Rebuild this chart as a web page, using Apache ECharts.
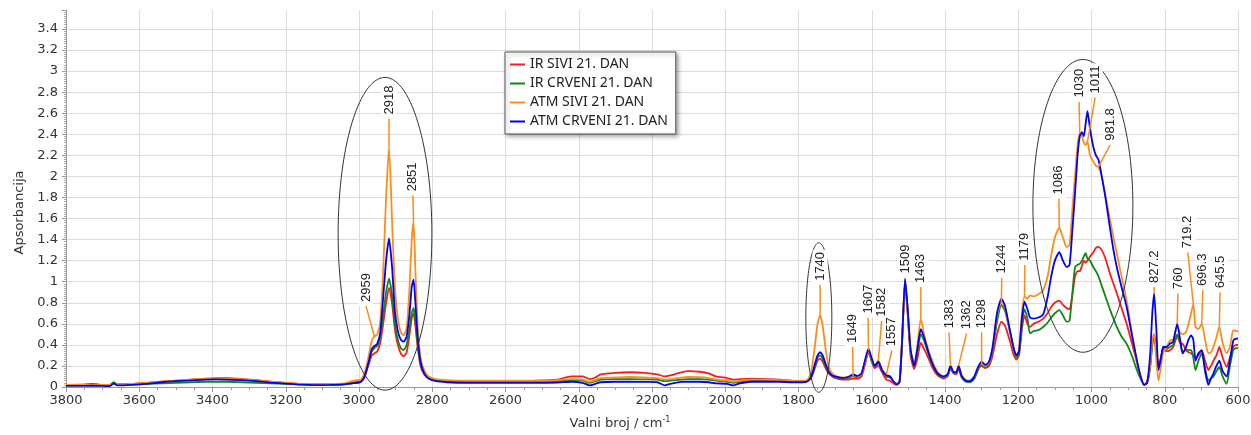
<!DOCTYPE html>
<html><head><meta charset="utf-8">
<script src="https://cdn.jsdelivr.net/npm/echarts@6/dist/echarts.min.js"></script>
<style>html,body{margin:0;padding:0;background:#fff}#c{width:1251px;height:435px}</style>
</head><body><div id="c"></div>
<script>
const seriesNames = ['IR SIVI 21. DAN', 'IR CRVENI 21. DAN', 'ATM SIVI 21. DAN', 'ATM CRVENI 21. DAN'];
const seriesColors = ['#ff1a1a', '#118811', '#ff8c1a', '#0000ff'];

const wavenumbers = [3800,3760,3730,3700,3680,3670,3660,3620,3580,3540,3500,3460,3420,3390,3360,3320,3280,3240,3200,3160,3120,3080,3040,3020,3005,2995,2985,2975,2965,2958,2950,2942,2934,2926,2918,2910,2902,2894,2886,2878,2870,2862,2856,2851,2846,2840,2832,2822,2810,2790,2760,2700,2640,2580,2520,2460,2420,2390,2370,2355,2340,2300,2260,2220,2185,2165,2150,2120,2100,2070,2045,2025,1995,1978,1960,1930,1890,1850,1820,1790,1775,1765,1755,1748,1741,1734,1726,1718,1708,1695,1680,1665,1651,1640,1628,1618,1609,1600,1592,1582,1572,1560,1550,1540,1532,1524,1517,1509,1502,1494,1484,1476,1466,1457,1446,1434,1420,1405,1393,1385,1376,1369,1363,1354,1343,1332,1320,1308,1300,1290,1280,1270,1258,1246,1236,1224,1212,1205,1198,1190,1183,1175,1168,1158,1145,1132,1120,1110,1100,1088,1078,1068,1060,1052,1045,1038,1032,1026,1021,1016,1011,1004,995,988,981,972,962,950,940,931,918,904,890,877,866,856,848,840,834,829,823,817,810,804,795,786,777,766,758,751,742,735,728,722,716,708,699,690,681,674,667,659,651,642,631,622,613,605,600];

const irSivi = [0.02,0.02,0.025,0.02,0.02,0.03,0.025,0.03,0.04,0.05,0.06,0.07,0.08,0.085,0.083,0.075,0.065,0.05,0.04,0.03,0.025,0.025,0.03,0.04,0.05,0.05,0.09,0.2,0.3,0.32,0.34,0.42,0.6,0.8,0.94,0.8,0.55,0.4,0.32,0.29,0.33,0.5,0.65,0.7,0.58,0.38,0.2,0.12,0.08,0.06,0.055,0.05,0.05,0.055,0.06,0.07,0.1,0.1,0.075,0.09,0.12,0.135,0.14,0.135,0.12,0.1,0.11,0.14,0.15,0.145,0.13,0.1,0.085,0.07,0.075,0.08,0.075,0.07,0.06,0.055,0.06,0.09,0.18,0.25,0.27,0.24,0.18,0.13,0.1,0.08,0.07,0.07,0.08,0.08,0.1,0.22,0.33,0.24,0.18,0.2,0.14,0.07,0.06,0.03,0.02,0.05,0.45,1.0,0.7,0.3,0.17,0.26,0.42,0.36,0.28,0.18,0.11,0.08,0.1,0.17,0.13,0.12,0.17,0.09,0.06,0.05,0.08,0.18,0.2,0.18,0.2,0.3,0.5,0.62,0.58,0.45,0.3,0.26,0.3,0.55,0.68,0.6,0.57,0.6,0.62,0.65,0.7,0.76,0.8,0.82,0.78,0.75,0.74,0.88,1.05,1.1,1.1,1.15,1.2,1.18,1.2,1.24,1.28,1.32,1.33,1.3,1.22,1.08,0.98,0.89,0.75,0.6,0.42,0.25,0.1,0.02,0.05,0.2,0.42,0.5,0.35,0.2,0.28,0.36,0.34,0.35,0.38,0.48,0.42,0.41,0.35,0.33,0.32,0.3,0.28,0.3,0.35,0.25,0.16,0.2,0.25,0.3,0.38,0.28,0.19,0.28,0.38,0.4,0.4];

const irCrveni = [0.02,0.02,0.03,0.02,0.02,0.045,0.025,0.025,0.03,0.035,0.04,0.045,0.05,0.05,0.05,0.045,0.04,0.035,0.03,0.025,0.022,0.022,0.025,0.035,0.04,0.05,0.1,0.22,0.34,0.37,0.39,0.48,0.68,0.9,1.03,0.88,0.6,0.45,0.37,0.35,0.4,0.56,0.7,0.75,0.62,0.42,0.22,0.13,0.09,0.065,0.055,0.05,0.05,0.05,0.05,0.055,0.065,0.06,0.04,0.055,0.07,0.075,0.075,0.072,0.07,0.055,0.06,0.07,0.075,0.075,0.07,0.06,0.05,0.04,0.05,0.06,0.06,0.06,0.055,0.05,0.06,0.1,0.2,0.28,0.3,0.27,0.2,0.14,0.11,0.09,0.08,0.085,0.1,0.095,0.12,0.24,0.34,0.25,0.19,0.23,0.16,0.1,0.09,0.05,0.03,0.05,0.45,1.01,0.72,0.33,0.2,0.32,0.5,0.44,0.32,0.21,0.12,0.09,0.11,0.18,0.13,0.13,0.18,0.09,0.05,0.045,0.08,0.18,0.21,0.19,0.22,0.35,0.62,0.78,0.72,0.55,0.35,0.28,0.31,0.6,0.74,0.65,0.51,0.53,0.54,0.57,0.61,0.66,0.7,0.73,0.68,0.62,0.63,0.9,1.14,1.16,1.17,1.2,1.24,1.27,1.22,1.2,1.14,1.1,1.05,0.96,0.86,0.74,0.65,0.57,0.48,0.41,0.3,0.17,0.08,0.02,0.04,0.18,0.4,0.48,0.33,0.18,0.28,0.38,0.36,0.38,0.4,0.5,0.43,0.32,0.36,0.35,0.35,0.28,0.16,0.25,0.32,0.18,0.06,0.08,0.1,0.15,0.19,0.1,0.03,0.2,0.35,0.37,0.37];

const atmSivi = [0.02,0.025,0.02,0.02,0.02,0.03,0.025,0.03,0.04,0.05,0.06,0.07,0.077,0.08,0.078,0.072,0.062,0.05,0.04,0.03,0.025,0.025,0.035,0.055,0.065,0.07,0.13,0.27,0.44,0.48,0.5,0.62,1.1,1.8,2.28,1.6,0.95,0.65,0.52,0.49,0.56,0.95,1.4,1.57,1.1,0.6,0.28,0.16,0.1,0.075,0.065,0.06,0.06,0.06,0.06,0.065,0.075,0.07,0.05,0.065,0.085,0.09,0.095,0.09,0.085,0.07,0.075,0.09,0.095,0.093,0.085,0.07,0.06,0.05,0.06,0.07,0.07,0.065,0.06,0.055,0.07,0.15,0.4,0.6,0.68,0.58,0.36,0.2,0.13,0.1,0.09,0.095,0.11,0.1,0.12,0.24,0.35,0.26,0.2,0.25,0.17,0.12,0.1,0.05,0.03,0.05,0.45,1.02,0.73,0.35,0.22,0.38,0.65,0.5,0.36,0.24,0.14,0.1,0.12,0.2,0.14,0.14,0.2,0.11,0.07,0.06,0.1,0.2,0.22,0.2,0.23,0.37,0.68,0.81,0.75,0.55,0.35,0.3,0.35,0.7,0.86,0.84,0.87,0.86,0.88,0.92,1.05,1.25,1.42,1.51,1.42,1.33,1.35,1.7,2.0,2.3,2.41,2.38,2.32,2.3,2.33,2.2,2.14,2.1,2.09,2.0,1.82,1.6,1.42,1.27,1.05,0.82,0.52,0.26,0.1,0.02,0.05,0.2,0.45,0.5,0.25,0.06,0.2,0.33,0.38,0.44,0.45,0.57,0.52,0.5,0.52,0.6,0.7,0.79,0.57,0.55,0.6,0.45,0.32,0.33,0.38,0.47,0.57,0.42,0.32,0.38,0.54,0.53,0.53];

const atmCrveni = [0.01,0.01,0.012,0.01,0.008,0.035,0.015,0.02,0.03,0.045,0.055,0.062,0.07,0.072,0.07,0.065,0.055,0.042,0.032,0.022,0.018,0.02,0.025,0.035,0.04,0.05,0.1,0.22,0.36,0.39,0.41,0.52,0.85,1.2,1.41,1.15,0.72,0.53,0.45,0.43,0.48,0.7,0.95,1.02,0.8,0.48,0.24,0.13,0.08,0.055,0.045,0.04,0.04,0.04,0.04,0.042,0.05,0.04,0.015,0.03,0.045,0.05,0.05,0.048,0.045,0.015,0.03,0.048,0.05,0.05,0.045,0.035,0.03,0.015,0.035,0.05,0.05,0.05,0.045,0.045,0.055,0.1,0.22,0.3,0.33,0.3,0.22,0.15,0.11,0.095,0.085,0.095,0.12,0.105,0.13,0.26,0.365,0.27,0.2,0.24,0.16,0.11,0.1,0.05,0.025,0.05,0.45,1.03,0.75,0.36,0.2,0.35,0.55,0.47,0.34,0.22,0.13,0.1,0.12,0.2,0.14,0.14,0.2,0.1,0.06,0.055,0.1,0.2,0.24,0.21,0.24,0.38,0.7,0.84,0.77,0.56,0.36,0.3,0.34,0.65,0.81,0.74,0.66,0.65,0.66,0.69,0.85,1.05,1.2,1.28,1.2,1.14,1.16,1.5,1.84,2.2,2.38,2.42,2.38,2.5,2.62,2.45,2.28,2.2,2.16,2.0,1.8,1.52,1.3,1.14,0.95,0.76,0.5,0.27,0.1,0.02,0.04,0.3,0.7,0.89,0.55,0.16,0.28,0.38,0.38,0.41,0.43,0.6,0.45,0.32,0.38,0.45,0.49,0.45,0.25,0.32,0.35,0.15,0.02,0.08,0.13,0.2,0.25,0.15,0.1,0.25,0.44,0.46,0.46];

const peakLabels = ['2959','2918','2851','1740','1649','1607','1582','1557','1509','1463','1383','1362','1298','1244','1179','1086','1030','1011','981.8','827.2','760','719.2','696.3','645.5'];
const peakWn =   [2958,2918,2851,1741,1651,1609,1582,1560,1509,1466,1385,1363,1300,1246,1183,1088,1032,1011,981,829,766,722,699,651];
const peakAbs =  [0.48,2.28,1.57,0.68,0.11,0.35,0.25,0.12,1.03,0.65,0.2,0.2,0.22,0.81,0.86,1.51,2.41,2.33,2.09,0.89,0.6,0.79,0.6,0.57];
const labelWn =  [2981,2918,2853,1741,1652,1610,1573,1545,1509,1466,1389,1341,1300,1245,1182,1089,1034,990,949,829,764,737,696,649];
const labelAbs = [0.77,2.55,1.82,0.97,0.38,0.66,0.63,0.35,1.04,0.95,0.52,0.51,0.52,1.04,1.16,1.79,2.71,2.75,2.30,0.95,0.89,1.28,0.92,0.90];

const ellipseWn = [2929, 1744.5, 1023.5];
const ellipseAbs = [1.455, 0.66, 1.72];
const ellipseHalfWn = [128, 35.5, 136.5];
const ellipseHalfAbs = [1.485, 0.71, 1.39];

const xTickStep = 200;
const yTickStep = 0.2;

const chart = echarts.init(document.getElementById('c'), null, {renderer: 'canvas'});
const axisFont = 'DejaVu Sans';

const lineSeries = [irSivi, irCrveni, atmSivi, atmCrveni].map((vals, k) => ({
  name: seriesNames[k],
  type: 'line',
  data: wavenumbers.map((w, i) => [w, vals[i]]),
  showSymbol: false,
  symbol: 'none',
  smooth: 0.2,
  silent: true,
  lineStyle: {color: seriesColors[k], width: 1.8},
  itemStyle: {color: seriesColors[k]},
  emphasis: {disabled: true},
  z: 2 + k * 0.1
}));

const ellipseSeries = {
  type: 'custom',
  silent: true,
  z: 5,
  data: ellipseWn.map((w, i) => [w, ellipseAbs[i], ellipseHalfWn[i], ellipseHalfAbs[i]]),
  encode: {x: 0, y: 1},
  renderItem(params, api) {
    const c = api.coord([api.value(0), api.value(1)]);
    const s = api.size([api.value(2), api.value(3)]);
    const pts = [];
    for (let a = 0; a <= 120; a++) {
      const t = a / 120 * Math.PI * 2;
      pts.push([c[0] + s[0] * Math.cos(t), c[1] + s[1] * Math.sin(t)]);
    }
    return {type: 'polyline', shape: {points: pts}, style: {stroke: '#333', lineWidth: 1, fill: null}};
  }
};

const labelSeries = {
  type: 'custom',
  silent: true,
  z: 6,
  data: peakLabels.map((t, i) => [labelWn[i], labelAbs[i], peakWn[i], peakAbs[i]]),
  encode: {x: 0, y: 1},
  renderItem(params, api) {
    const a = api.coord([api.value(0), api.value(1)]);
    const b = api.coord([api.value(2), api.value(3)]);
    return {type: 'group', children: [
      {type: 'line', shape: {x1: a[0], y1: a[1], x2: b[0], y2: b[1]}, style: {stroke: '#ff8c1a', lineWidth: 1.5}},
      {type: 'text', x: a[0], y: a[1], rotation: Math.PI / 2,
       style: {text: peakLabels[params.dataIndex], font: '13px "Liberation Sans"', fill: '#222',
               align: 'left', verticalAlign: 'middle', backgroundColor: '#fff', padding: [1, 2, 1, 4]}}
    ]};
  }
};

chart.setOption({
  animation: false,
  backgroundColor: '#fff',
  grid: {left: 66, right: 13, top: 10, bottom: 48, containLabel: false, outerBoundsMode: 'none'},
  legend: {
    data: seriesNames, orient: 'vertical', left: 505, top: 52,
    padding: [5, 8, 5, 5], itemGap: 4, itemWidth: 15, itemHeight: 2, icon: 'rect',
    backgroundColor: '#fff', borderColor: '#555', borderWidth: 1,
    shadowBlur: 4, shadowColor: 'rgba(0,0,0,0.35)', shadowOffsetX: 2, shadowOffsetY: 2,
    textStyle: {fontFamily: 'Noto Sans', fontSize: 14, color: '#222', lineHeight: 15},
    selectedMode: false
  },
  xAxis: {
    type: 'value', inverse: true, min: 600, max: 3800, interval: xTickStep,
    name: 'Valni broj / cm{sup|-1}', nameLocation: 'middle', nameGap: 29,
    nameTextStyle: {fontFamily: axisFont, fontSize: 13, color: '#333', padding: [0, 64, 0, 0],
      rich: {sup: {fontFamily: axisFont, fontSize: 8, color: '#333', verticalAlign: 'top', padding: [0, 0, 8, 0]}}},
    axisLine: {show: true, onZero: false, lineStyle: {color: '#999'}},
    axisTick: {show: true, length: 5, lineStyle: {color: '#999'}},
    minorTick: {show: true, splitNumber: 4, length: 3, lineStyle: {color: '#999'}},
    axisLabel: {fontFamily: axisFont, fontSize: 13, color: '#333', margin: 7, formatter: v => String(v)},
    splitLine: {show: true, lineStyle: {color: '#dcdcdc', width: 1}}
  },
  yAxis: {
    type: 'value', min: 0, max: 3.58, interval: yTickStep,
    name: 'Apsorbancija', nameLocation: 'middle', nameGap: 40,
    nameTextStyle: {fontFamily: axisFont, fontSize: 13, color: '#333', padding: [0, 28, 0, 0]},
    axisLine: {show: true, lineStyle: {color: '#999'}},
    axisTick: {show: true, length: 4, lineStyle: {color: '#999'}},
    minorTick: {show: true, splitNumber: 10, length: 2, lineStyle: {color: '#aaa'}},
    axisLabel: {fontFamily: axisFont, fontSize: 13, color: '#333', margin: 8, showMaxLabel: false,
      formatter: v => (Math.abs(v / yTickStep - Math.round(v / yTickStep)) < 1e-6 ? String(Math.round(v * 10) / 10) : '')},
    splitLine: {show: true, showMaxLine: false, lineStyle: {color: '#dcdcdc', width: 1}}
  },
  series: [...lineSeries, ellipseSeries, labelSeries]
});
</script></body></html>
